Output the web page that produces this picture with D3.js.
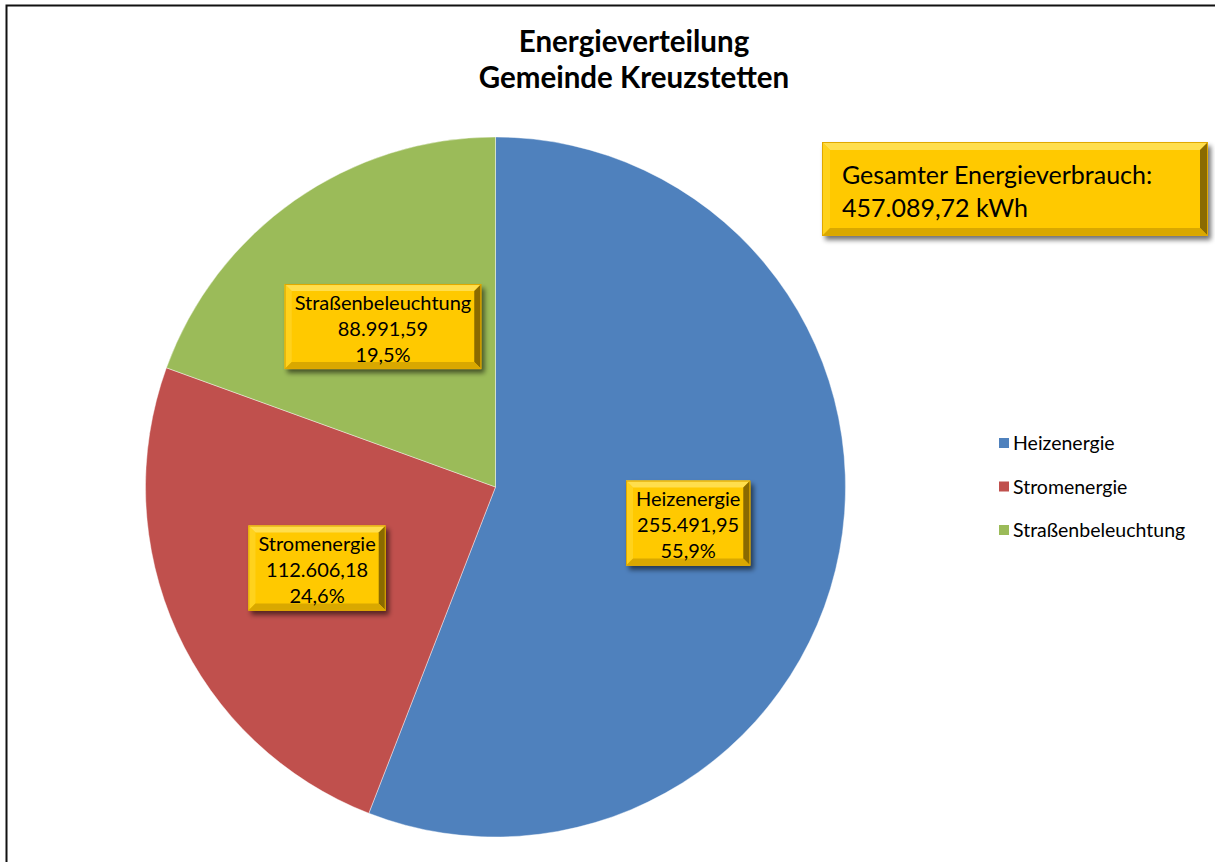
<html>
<head>
<meta charset="utf-8">
<style>
  body{margin:0;background:#fff}
  svg text{font-family:Lato,"Noto Sans",sans-serif;fill:#000}
</style>
</head>
<body>
<div id="chart"></div>
<script src="https://cdnjs.cloudflare.com/ajax/libs/d3/7.8.5/d3.min.js"></script>
<script>
var categories = ['Heizenergie', 'Stromenergie', 'Straßenbeleuchtung'];
var values     = [255491.95, 112606.18, 88991.59];
var valueLabels = ['255.491,95', '112.606,18', '88.991,59'];
var pctLabels   = ['55,9%', '24,6%', '19,5%'];
var colors      = ['#4F81BD', '#C0504D', '#9BBB59'];
var titleLines  = ['Energieverteilung', 'Gemeinde Kreuzstetten'];
var totalLines  = ['Gesamter Energieverbrauch:', '457.089,72 kWh'];

(function () {
  var
    width  = 1215,
    height = 862,
    cx     = 495.5,
    cy     = 487,
    radius = 350,
    svg    = d3.select('#chart').append('svg')
               .attr('width', width)
               .attr('height', height),
    defs   = svg.append('defs');

  // drop shadow for the gold boxes
  var f = defs.append('filter').attr('id', 'shadow')
    .attr('x', '-20%').attr('y', '-20%').attr('width', '150%').attr('height', '160%');
  f.append('feGaussianBlur').attr('in', 'SourceAlpha').attr('stdDeviation', 2.5);
  f.append('feOffset').attr('dx', 3).attr('dy', 4).attr('result', 'b');
  f.append('feComponentTransfer').append('feFuncA').attr('type', 'linear').attr('slope', 0.55);
  var m = f.append('feMerge');
  m.append('feMergeNode');
  m.append('feMergeNode').attr('in', 'SourceGraphic');

  // outer frame (right and bottom edges fall outside the picture)
  svg.append('rect')
    .attr('x', 6.5).attr('y', 5.5)
    .attr('width', width + 20).attr('height', height + 20)
    .attr('fill', 'none')
    .attr('stroke', '#111')
    .attr('stroke-width', 2);

  // title
  svg.append('g').selectAll('text')
    .data(titleLines)
    .enter().append('text')
    .attr('x', 634)
    .attr('y', function (d, i) { return 52 + i * 36; })
    .attr('text-anchor', 'middle')
    .style('font-weight', 'bold')
    .style('font-size', '29.5px')
    .text(function (d) { return d; });

  // pie
  var pie = d3.pie().sort(null).value(function (d) { return d; });
  var arcs = pie(values);
  var arc = d3.arc().innerRadius(0).outerRadius(radius);
  var labelArc = d3.arc().innerRadius(radius * 0.56).outerRadius(radius * 0.56);

  var g = svg.append('g').attr('transform', 'translate(' + cx + ',' + cy + ')');
  g.selectAll('path')
    .data(arcs)
    .enter().append('path')
    .attr('d', arc)
    .attr('fill', function (d, i) { return colors[i]; })
    .attr('stroke', '#fff')
    .attr('stroke-width', 0.7)
    .attr('stroke-opacity', 0.6);

  // bevelled gold box
  function goldBox(parent, x, y, w, h, bw) {
    var b = parent.append('g').attr('filter', 'url(#shadow)');
    b.append('rect').attr('x', x).attr('y', y).attr('width', w).attr('height', h).attr('fill', '#FFC900');
    function poly(pts, fill) {
      b.append('polygon').attr('points', pts.map(function (p) { return p.join(','); }).join(' ')).attr('fill', fill);
    }
    poly([[x, y], [x + w, y], [x + w - bw, y + bw], [x + bw, y + bw]], '#FFDE4D');
    poly([[x, y], [x + bw, y + bw], [x + bw, y + h - bw], [x, y + h]], '#FFD21F');
    poly([[x + w, y], [x + w, y + h], [x + w - bw, y + h - bw], [x + w - bw, y + bw]], '#8A6A00');
    poly([[x, y + h], [x + bw, y + h - bw], [x + w - bw, y + h - bw], [x + w, y + h]], '#D9A800');
    b.append('rect').attr('x', x + 0.5).attr('y', y + 0.5).attr('width', w - 1).attr('height', h - 1)
      .attr('fill', 'none').attr('stroke', '#E0A800').attr('stroke-width', 1);
    return b;
  }

  // slice labels
  var labels = svg.append('g').attr('transform', 'translate(' + cx + ',' + cy + ')');
  arcs.forEach(function (d, i) {
    var c = labelArc.centroid(d);
    var lines = [categories[i], valueLabels[i], pctLabels[i]];
    var lg = labels.append('g');
    var boxG = lg.append('g');
    var t = lg.selectAll('text')
      .data(lines)
      .enter().append('text')
      .attr('x', c[0])
      .attr('y', function (s, k) { return c[1] - 17 + k * 26; })
      .attr('text-anchor', 'middle')
      .style('font-size', '20px')
      .text(function (s) { return s; });
    var tw = d3.max(t.nodes(), function (n) { return n.getComputedTextLength(); });
    var w = tw + 20, h = 85;
    goldBox(boxG, c[0] - w / 2, c[1] - h / 2, w, h, 7);
  });

  // total box
  var tb = svg.append('g');
  goldBox(tb, 822, 142, 386, 94, 8);
  tb.selectAll('text')
    .data(totalLines)
    .enter().append('text')
    .attr('x', 842)
    .attr('y', function (d, i) { return 184 + i * 33; })
    .style('font-size', '25px')
    .text(function (d) { return d; });

  // legend
  var legend = svg.append('g').attr('transform', 'translate(999,438)');
  var item = legend.selectAll('g')
    .data(categories)
    .enter().append('g')
    .attr('transform', function (d, i) { return 'translate(0,' + (i * 43.5) + ')'; });
  item.append('rect')
    .attr('width', 10).attr('height', 10)
    .attr('fill', function (d, i) { return colors[i]; });
  item.append('text')
    .attr('x', 14)
    .attr('y', 12)
    .style('font-size', '19.5px')
    .text(function (d) { return d; });
})();
</script>
</body>
</html>
